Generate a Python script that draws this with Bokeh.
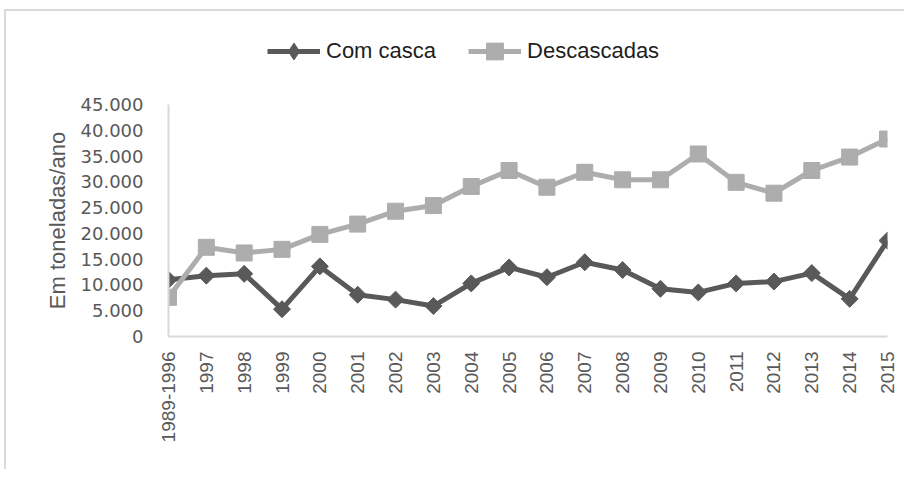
import math
from bokeh.plotting import figure
from bokeh.layouts import column
from bokeh.models import FixedTicker, Range1d, Legend, LegendItem
from bokeh.embed import file_html
from bokeh.resources import INLINE

categories = ["1989-1996", "1997", "1998", "1999", "2000", "2001", "2002", "2003", "2004",
              "2005", "2006", "2007", "2008", "2009", "2010", "2011", "2012", "2013",
              "2014", "2015"]
com_casca = [11000, 11800, 12150, 5300, 13600, 8100, 7150, 5900, 10300, 13400,
             11500, 14400, 12900, 9250, 8550, 10300, 10650, 12300, 7300, 18600]
descascadas = [7600, 17300, 16200, 16900, 19800, 21800, 24300, 25400, 29100, 32200,
               28950, 31850, 30400, 30400, 35400, 29900, 27800, 32200, 34800, 38300]
y_ticks = [0, 5000, 10000, 15000, 20000, 25000, 30000, 35000, 40000, 45000]
y_tick_labels = ["0", "5.000", "10.000", "15.000", "20.000", "25.000", "30.000",
                 "35.000", "40.000", "45.000"]
series_names = ["Com casca", "Descascadas"]
y_title = "Em toneladas/ano"

dark = "#595959"
light = "#adadad"
W = 898

x = list(range(len(categories)))

# ---- main chart ----
p = figure(width=W, height=388, output_backend="svg", toolbar_location=None,
           x_range=Range1d(0, len(categories) - 1), y_range=Range1d(0, 45000),
           min_border_left=162, min_border_top=23, min_border_bottom=133,
           min_border_right=17)
p.outline_line_color = None
p.xgrid.visible = False
p.ygrid.visible = False
p.background_fill_color = "white"
p.border_fill_color = "white"

p.line(x, com_casca, line_color=dark, line_width=5)
p.scatter(x, com_casca, marker="square", angle=math.pi / 4, size=12,
          fill_color=dark, line_color=dark)
p.line(x, descascadas, line_color=light, line_width=5)
p.scatter(x, descascadas, marker="square", size=16,
          fill_color=light, line_color=light)

xa = p.xaxis[0]
xa.ticker = FixedTicker(ticks=x)
xa.major_label_overrides = {i: c for i, c in enumerate(categories)}
xa.major_label_orientation = math.pi / 2
xa.axis_line_color = "#d9d9d9"
xa.axis_line_width = 2
xa.major_tick_line_color = None
xa.minor_tick_line_color = None
xa.major_tick_out = 0
xa.major_tick_in = 0
xa.major_label_standoff = 15
xa.major_label_text_font = "Liberation Sans"
xa.major_label_text_font_size = "19px"
xa.major_label_text_color = dark

ya = p.yaxis[0]
ya.ticker = FixedTicker(ticks=y_ticks)
ya.major_label_overrides = {t: l for t, l in zip(y_ticks, y_tick_labels)}
ya.axis_line_color = "#d9d9d9"
ya.axis_line_width = 2
ya.major_tick_line_color = None
ya.minor_tick_line_color = None
ya.major_tick_out = 0
ya.major_tick_in = 0
ya.major_label_standoff = 25
ya.major_label_text_font = "DejaVu Sans"
ya.major_label_text_font_size = "18px"
ya.major_label_text_color = dark
ya.axis_label = y_title
ya.axis_label_text_font = "Liberation Sans"
ya.axis_label_text_font_size = "22px"
ya.axis_label_text_font_style = "normal"
ya.axis_label_text_color = dark
ya.axis_label_standoff = 8

# ---- legend strip above the chart ----
lf = figure(width=W, height=70, output_backend="svg", toolbar_location=None,
            x_range=Range1d(0, 1), y_range=Range1d(0, 1),
            min_border_left=0, min_border_right=0, min_border_top=0, min_border_bottom=0)
lf.axis.visible = False
lf.xgrid.visible = False
lf.ygrid.visible = False
lf.outline_line_color = None
lf.background_fill_color = "white"
lf.border_fill_color = "white"
# off-range proxies, used only to draw the legend swatches
ll1 = lf.line([5, 6], [5, 6], line_color=dark, line_width=5)
ls1 = lf.scatter([5], [5], marker="diamond", size=12, fill_color=dark, line_color=dark)
ll2 = lf.line([5, 6], [5, 6], line_color=light, line_width=5)
ls2 = lf.scatter([5], [5], marker="square", size=16, fill_color=light, line_color=light)

legend = Legend(items=[LegendItem(label=series_names[0], renderers=[ll1, ls1]),
                       LegendItem(label=series_names[1], renderers=[ll2, ls2])],
                orientation="horizontal", location=(99, 9),
                glyph_width=53, glyph_height=42, label_standoff=6, spacing=32,
                padding=0, margin=0, border_line_color=None,
                background_fill_alpha=0,
                label_text_font="Liberation Sans", label_text_font_size="22px",
                label_text_color="#1e1e1e")
lf.add_layout(legend, "center")

layout = column(lf, p, spacing=0)
layout.styles = {"border-top": "2px solid #d9d9d9", "border-left": "2px solid #d9d9d9",
                 "margin-top": "9px", "margin-left": "4px"}

open("out.html", "w").write(file_html(layout, INLINE))
